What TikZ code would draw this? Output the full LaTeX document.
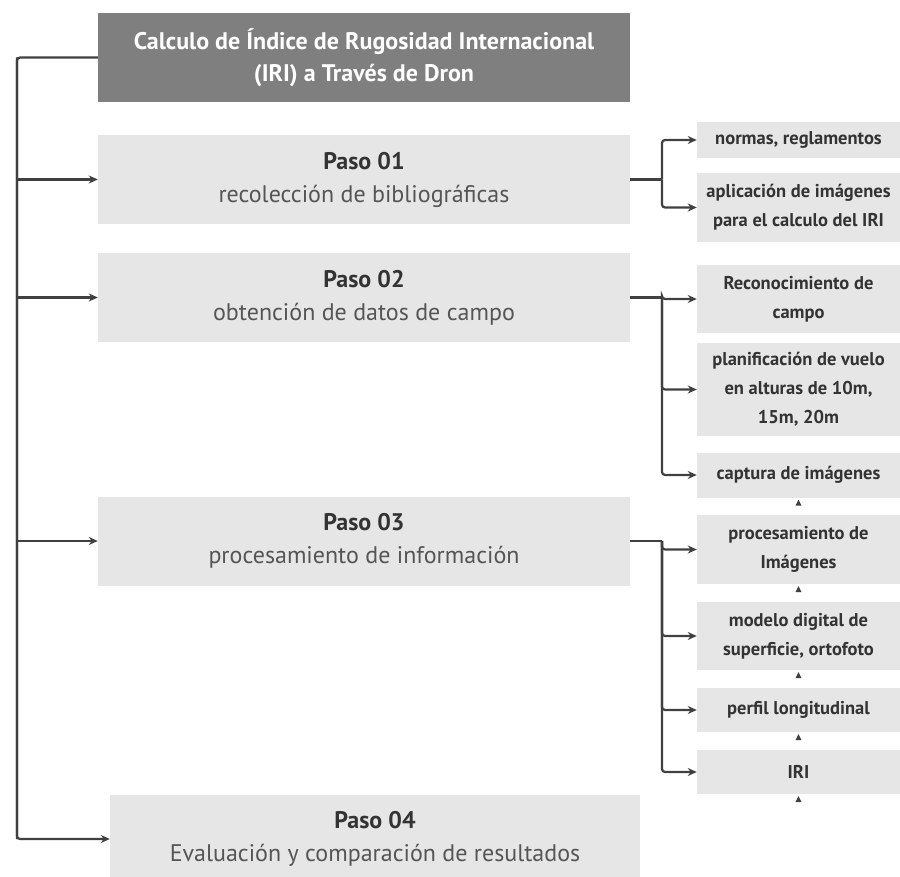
\documentclass[tikz,border=0pt]{standalone}
\usepackage{fontspec}
\setmainfont{PT Sans}
\usepackage{tikz}
\usetikzlibrary{arrows.meta}
\usetikzlibrary{positioning}
\usetikzlibrary{calc}
\definecolor{linec}{HTML}{404040}
\definecolor{boxc}{HTML}{E6E6E6}
\definecolor{headc}{HTML}{7F7F7F}
\definecolor{txtc}{HTML}{333333}
\definecolor{subc}{HTML}{555555}
\tikzstyle{headbox}=[fill=headc,text=white,font=\fontsize{24}{32}\selectfont\bfseries,align=center,minimum width=532pt,minimum height=89pt,inner sep=0pt]
\tikzstyle{stepbox}=[fill=boxc,text=subc,font=\fontsize{24}{33}\selectfont,align=center,minimum width=532pt,minimum height=89pt,inner sep=0pt]
\tikzstyle{taskbox}=[fill=boxc,text=txtc,font=\fontsize{18.5}{29}\selectfont\bfseries,align=center,minimum width=203pt,inner sep=0pt]
\tikzstyle{conn}=[draw=linec,line width=2.2pt,rounded corners=3pt]
\tikzstyle{arr}=[conn,-{Stealth[length=9pt,width=8pt]}]
\newcommand{\paso}[1]{\textcolor{txtc}{\textbf{#1}}}
\begin{document}
\begin{tikzpicture}[x=1pt,y=-1pt]
\useasboundingbox (0,0) rectangle (900,877);
% main column
\node [headbox] (tit) at (364,57.5) {Calculo de Índice de Rugosidad Internacional\\(IRI) a Través de Dron};
\node [stepbox] (p1) at (364,179.5) {\paso{Paso 01}\\recolección de bibliográficas};
\node [stepbox] (p2) at (364,297.5) {\paso{Paso 02}\\obtención de datos de campo};
\node [stepbox] (p3) at (364,541) {\paso{Paso 03}\\procesamiento de información};
\node [stepbox,minimum width=530pt,minimum height=88pt] (p4) at (375,839) {\paso{Paso 04}\\Evaluación y comparación de resultados};
% tasks on the right
\node [taskbox,minimum height=36pt] (a1) at (798.5,140) {normas, reglamentos};
\node [taskbox,minimum height=69pt] (a2) at (798.5,207.5) {aplicación de imágenes\\para el calculo del IRI};
\node [taskbox,minimum height=68pt] (b1) at (798.5,299) {Reconocimiento de\\campo};
\node [taskbox,minimum height=93pt] (b2) at (798.5,389.5) {planificación de vuelo\\en alturas de 10m,\\15m, 20m};
\node [taskbox,minimum height=45pt] (b3) at (798.5,475) {captura de imágenes};
\node [taskbox,minimum height=69pt] (c1) at (798.5,549.5) {procesamiento de\\Imágenes};
\node [taskbox,minimum height=68pt] (c2) at (798.5,636) {modelo digital de\\superficie, ortofoto};
\node [taskbox,minimum height=44pt] (c3) at (798.5,710) {perfil longitudinal};
\node [taskbox,minimum height=44pt] (c4) at (798.5,772) {IRI};

\coordinate (t) at (17,0);
\coordinate (r) at (662,0);

% left trunk
\draw[conn] (tit.west) -- (tit.west -| t) -- (p4.west -| t);
\draw[arr] (tit.west -| t) |- (p4.west);
\foreach \p in {p1,p2,p3}
  \draw[arr,rounded corners=0pt] (\p.west -| t) -- (\p.west);

% right branches
\draw[conn] (p1.east) -- (p1.east -| r);
\foreach \a in {a1,a2}
  \draw[arr] (p1.east -| r) |- (\a.west);
\draw[conn] (p2.east) -- (p2.east -| r);
\foreach \a in {b1,b2,b3}
  \draw[arr] (p2.east -| r) |- (\a.west);
\draw[conn] (p3.east) -- (p3.east -| r);
\foreach \a in {c1,c2,c3,c4}
  \draw[arr] (p3.east -| r) |- (\a.west);

% small marks under the tasks
\foreach \a in {b3,c1,c2,c3,c4}
  \fill[linec] ($(\a.south)+(0,2)$) -- ++(-3,6) -- ++(6,0) -- cycle;
\end{tikzpicture}
\end{document}
